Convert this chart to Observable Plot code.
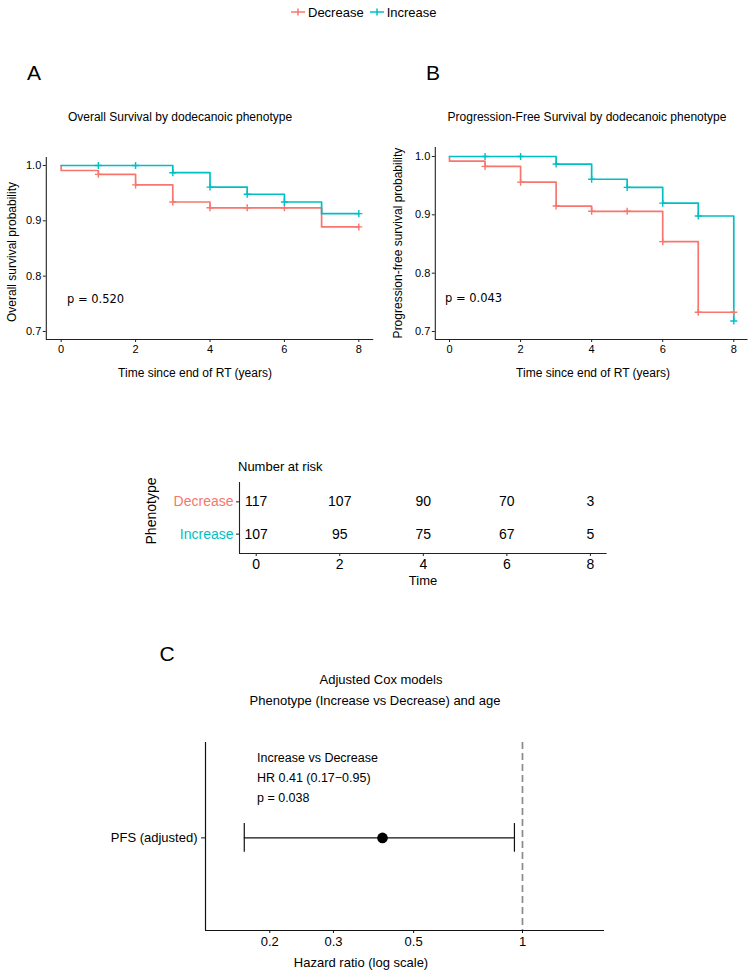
<!DOCTYPE html>
<html><head><meta charset="utf-8">
<script src="https://cdn.jsdelivr.net/npm/d3@7"></script>
<script src="https://cdn.jsdelivr.net/npm/@observablehq/plot@0.6"></script>
<style>
body{margin:0;background:#fff;}
#root{position:relative;width:753px;height:976px;font-family:"Liberation Sans",Arial,sans-serif;color:#000;overflow:hidden;background:#fff}
.abs{position:absolute;white-space:nowrap;line-height:1}
.c{transform:translate(-50%,-50%)}
.l{transform:translate(0,-50%)}
.rot{transform:translate(-50%,-50%) rotate(-90deg)}
.box{position:absolute}
</style></head><body><div id="root"></div>
<script>
// ---------- data ----------
const groups = ["Decrease", "Increase"];
const groupColors = ["#F8766D", "#00BFC4"];

// Overall survival (panel A)
const osDecTime = [0, 0, 1, 2, 3, 4, 7, 8];
const osDecSurv = [1.0, 0.991, 0.984, 0.965, 0.934, 0.9235, 0.889, 0.889];
const osIncTime = [0, 3, 4, 5, 6, 7, 8];
const osIncSurv = [1.0, 0.987, 0.961, 0.948, 0.934, 0.913, 0.913];
const osDecCensTime = [1, 2, 3, 4, 5, 6, 8];
const osDecCensSurv = [0.984, 0.965, 0.934, 0.9235, 0.9235, 0.9235, 0.889];
const osIncCensTime = [1, 2, 3, 4, 5, 6, 8];
const osIncCensSurv = [1.0, 1.0, 0.987, 0.961, 0.948, 0.934, 0.913];

// Progression-free survival (panel B)
const pfsDecTime = [0, 0, 1, 2, 3, 4, 6, 7, 8];
const pfsDecSurv = [1.0, 0.992, 0.983, 0.956, 0.915, 0.906, 0.854, 0.733, 0.733];
const pfsIncTime = [0, 3, 4, 5, 6, 7, 8];
const pfsIncSurv = [1.0, 0.987, 0.961, 0.947, 0.920, 0.898, 0.720];
const pfsDecCensTime = [1, 2, 3, 4, 5, 6, 7, 8];
const pfsDecCensSurv = [0.983, 0.956, 0.915, 0.906, 0.906, 0.854, 0.733, 0.733];
const pfsIncCensTime = [1, 2, 3, 4, 5, 6, 7, 8];
const pfsIncCensSurv = [1.0, 1.0, 0.987, 0.961, 0.947, 0.920, 0.898, 0.718];

const timeTicks = [0, 2, 4, 6, 8];
const survTicks = [0.7, 0.8, 0.9, 1.0];

// Number at risk
const riskTimes = [0, 2, 4, 6, 8];
const riskDecrease = [117, 107, 90, 70, 3];
const riskIncrease = [107, 95, 75, 67, 5];

// Adjusted Cox model
const forestLabel = ["PFS (adjusted)"];
const forestHR = [0.41];
const forestLo = [0.17];
const forestHi = [0.95];
const hrTicks = [0.2, 0.3, 0.5, 1];

// ---------- helpers ----------
const root = document.getElementById("root");
const FONT = "Liberation Sans, Arial, sans-serif";
const AXIS = "#222";
function txt(s, x, y, cls, style) {
  const d = document.createElement("div");
  d.className = "abs " + cls;
  d.textContent = s;
  d.style.left = x + "px"; d.style.top = y + "px";
  Object.assign(d.style, style || {});
  root.appendChild(d);
  return d;
}
function place(node, left, top) {
  const w = document.createElement("div");
  w.className = "box";
  w.style.left = left + "px"; w.style.top = top + "px";
  w.appendChild(node);
  root.appendChild(w);
}
function rows(times, surv, g) { return times.map((t, i) => ({t, s: surv[i], g})); }

const timeDomain = [-0.4, 8.4];

function kmPlot(o) {
  const curve = [...rows(o.decT, o.decS, "Decrease"), ...rows(o.incT, o.incS, "Increase")];
  const cens = [...rows(o.decCT, o.decCS, "Decrease"), ...rows(o.incCT, o.incCS, "Increase")];
  return Plot.plot({
    width: o.width, height: o.height,
    marginLeft: o.ml, marginRight: o.mr, marginTop: o.mt, marginBottom: o.mb,
    style: {background: "transparent", fontFamily: FONT, color: "#000", overflow: "visible"},
    x: {domain: timeDomain},
    y: {domain: o.yDomain},
    color: {domain: groups, range: groupColors},
    marks: [
      Plot.ruleX([timeDomain[0]], {stroke: AXIS, strokeWidth: 1.1}),
      Plot.ruleY([o.yDomain[0]], {stroke: AXIS, strokeWidth: 1.1}),
      Plot.axisX({ticks: timeTicks, tickSize: 3, tickPadding: 3, fontSize: 11, label: null, stroke: AXIS}),
      Plot.axisY({ticks: survTicks, tickFormat: ".1f", tickSize: 3, tickPadding: 2, fontSize: 11, label: null, stroke: AXIS}),
      Plot.line(curve, {x: "t", y: "s", z: "g", stroke: "g", curve: "step-after", strokeWidth: 1.7}),
      Plot.dot(cens, {x: "t", y: "s", stroke: "g", symbol: "plus", r: 2.4, strokeWidth: 1.4})
    ]
  });
}

// ---------- legend ----------
const leg = document.createElement("div");
leg.className = "abs";
leg.style.left = "290px"; leg.style.top = "4px";
leg.style.fontSize = "13px"; leg.style.display = "flex"; leg.style.alignItems = "center";
groups.forEach((g, i) => {
  const svgNS = "http://www.w3.org/2000/svg";
  const s = document.createElementNS(svgNS, "svg");
  s.setAttribute("width", "16"); s.setAttribute("height", "16");
  s.innerHTML = `<line x1="1" y1="8" x2="15" y2="8" stroke="${groupColors[i]}" stroke-width="1.5"/><line x1="8" y1="4.5" x2="8" y2="11.5" stroke="${groupColors[i]}" stroke-width="1.5"/>`;
  s.style.marginRight = "2px";
  s.style.marginLeft = i ? "5px" : "0";
  leg.appendChild(s);
  const t = document.createElement("span");
  t.textContent = g;
  leg.appendChild(t);
});
root.appendChild(leg);

// ---------- panel A ----------
txt("A", 34, 72, "c", {fontSize: "21px"});
txt("Overall Survival by dodecanoic phenotype", 180, 117, "c", {fontSize: "12px"});
place(kmPlot({width: 376, height: 250, ml: 45.8, mr: 2.8, mt: 17, mb: 51,
  yDomain: [0.6855, 1.01446],
  decT: osDecTime, decS: osDecSurv, incT: osIncTime, incS: osIncSurv,
  decCT: osDecCensTime, decCS: osDecCensSurv, incCT: osIncCensTime, incCS: osIncCensSurv}), 0, 140);
txt("Overall survival probability", 12, 252, "rot", {fontSize: "12px"});
txt("Time since end of RT (years)", 195, 373, "c", {fontSize: "12px"});
txt("p = 0.520", 67, 300, "l", {fontSize: "11.5px", fontFamily: "DejaVu Sans"});

// ---------- panel B ----------
txt("B", 433, 72, "c", {fontSize: "21px"});
txt("Progression-Free Survival by dodecanoic phenotype", 587, 117, "c", {fontSize: "12px"});
place(kmPlot({width: 377, height: 250, ml: 58.8, mr: 5.5, mt: 7, mb: 51,
  yDomain: [0.6863, 1.0154],
  decT: pfsDecTime, decS: pfsDecSurv, incT: pfsIncTime, incS: pfsIncSurv,
  decCT: pfsDecCensTime, decCS: pfsDecCensSurv, incCT: pfsIncCensTime, incCS: pfsIncCensSurv}), 376, 140);
txt("Progression-free survival probability", 398, 243, "rot", {fontSize: "12px"});
txt("Time since end of RT (years)", 593, 373, "c", {fontSize: "12px"});
txt("p = 0.043", 445, 299, "l", {fontSize: "11.5px", fontFamily: "DejaVu Sans"});

// ---------- risk table ----------
// rows are placed by their index in `groups` (0 = top row)
const riskYDomain = [groups.length - 1 + 0.6, -0.6];
const riskRows = [
  ...riskTimes.map((t, i) => ({t, row: 0, n: riskDecrease[i]})),
  ...riskTimes.map((t, i) => ({t, row: 1, n: riskIncrease[i]}))
];
const riskLabels = groups.map((g, i) => ({g, row: i}));
const riskPlot = Plot.plot({
  width: 490, height: 140, marginLeft: 109, marginRight: 13.4, marginTop: 27, marginBottom: 42,
  style: {background: "transparent", fontFamily: FONT, color: "#000", overflow: "visible"},
  x: {domain: timeDomain},
  y: {domain: riskYDomain},
  color: {domain: groups, range: groupColors},
  marks: [
    Plot.ruleX([timeDomain[0]], {stroke: AXIS, strokeWidth: 1.1}),
    Plot.ruleY([riskYDomain[0]], {stroke: AXIS, strokeWidth: 1.1}),
    Plot.axisX({ticks: timeTicks, tickSize: 3, tickPadding: 3, fontSize: 14, label: null, stroke: AXIS}),
    Plot.axisY({ticks: riskLabels.map(d => d.row), tickSize: 3, tickFormat: () => "", label: null, stroke: AXIS}),
    Plot.text(riskLabels, {y: "row", text: "g", fill: "g", frameAnchor: "left", textAnchor: "end", dx: -6, fontSize: 14}),
    Plot.text(riskRows, {x: "t", y: "row", text: "n", fill: "#000", fontSize: 14})
  ]
});
place(riskPlot, 130, 455);
txt("Number at risk", 238, 466, "l", {fontSize: "13px"});
txt("Phenotype", 151, 511, "rot", {fontSize: "14px"});
txt("Time", 423, 580, "c", {fontSize: "13px"});

// ---------- panel C ----------
txt("C", 167, 653, "c", {fontSize: "21px"});
txt("Adjusted Cox models", 381, 679, "c", {fontSize: "13px"});
txt("Phenotype (Increase vs Decrease) and age", 375, 700, "c", {fontSize: "13px"});
const forest = forestLabel.map((label, i) => ({label, row: i + 1, hr: forestHR[i], lo: forestLo[i], hi: forestHi[i]}));
const hrDomain = [0.1328, 1.686];
const forestYDomain = [0, forestLabel.length + 1.03];
const capHalf = 0.155;
const forestPlot = Plot.plot({
  width: 653, height: 246, marginLeft: 105, marginRight: 149, marginTop: 12, marginBottom: 46,
  style: {background: "transparent", fontFamily: FONT, color: "#000", overflow: "visible"},
  x: {type: "log", domain: hrDomain},
  y: {domain: forestYDomain},
  marks: [
    Plot.ruleX([1], {stroke: "#8a8a8a", strokeDasharray: "7,4", strokeWidth: 1.7}),
    Plot.ruleX([hrDomain[0]], {stroke: "#111", strokeWidth: 1.2}),
    Plot.ruleY([forestYDomain[0]], {stroke: "#111", strokeWidth: 1.2}),
    Plot.axisX({ticks: hrTicks, tickFormat: d => String(d), tickSize: 3, tickPadding: 3, fontSize: 13, label: null, stroke: "#111"}),
    Plot.axisY({ticks: forest.map(d => d.row), tickFormat: (d) => forestLabel[d - 1], tickSize: 4, tickPadding: 4, fontSize: 13, label: null, stroke: "#111"}),
    Plot.ruleY(forest, {y: "row", x1: "lo", x2: "hi", stroke: "#111", strokeWidth: 1.2}),
    Plot.ruleX(forest, {x: "lo", y1: d => d.row - capHalf, y2: d => d.row + capHalf, stroke: "#111", strokeWidth: 1.2}),
    Plot.ruleX(forest, {x: "hi", y1: d => d.row - capHalf, y2: d => d.row + capHalf, stroke: "#111", strokeWidth: 1.2}),
    Plot.dot(forest, {x: "hr", y: "row", r: 5.3, fill: "#000"})
  ]
});
place(forestPlot, 100, 730);
txt("Increase vs Decrease", 257, 758, "l", {fontSize: "12.5px"});
txt("HR 0.41 (0.17\u22120.95)", 257, 778, "l", {fontSize: "12.5px"});
txt("p = 0.038", 257, 798, "l", {fontSize: "12.5px"});
txt("Hazard ratio (log scale)", 361, 962, "c", {fontSize: "13px"});
</script>
</body></html>
